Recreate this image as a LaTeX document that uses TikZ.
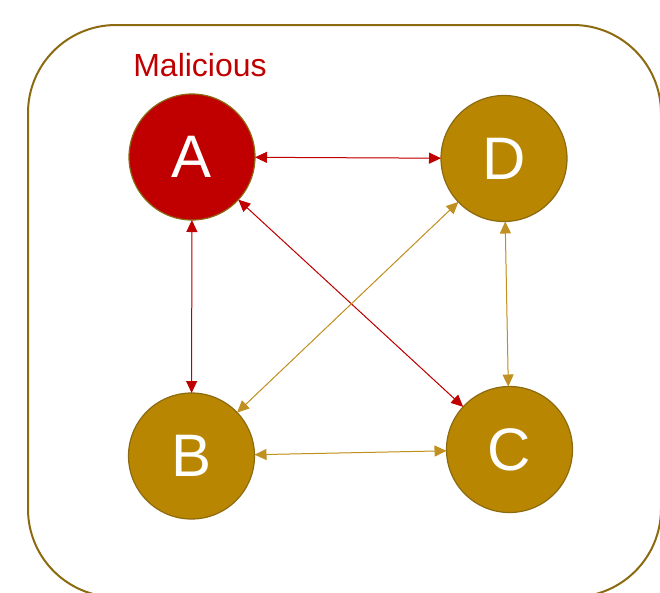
\documentclass[tikz,border=0pt]{standalone}
\usepackage{fontspec}
\setmainfont{Liberation Sans}
\usetikzlibrary{arrows.meta}
\definecolor{malred}{HTML}{C00000}
\definecolor{gold}{HTML}{B88600}
\definecolor{goldedge}{HTML}{8B6A10}
\definecolor{goldlink}{HTML}{C09020}
\begin{document}
\begin{tikzpicture}[x=1pt,y=-1pt,
  peer/.style={circle, minimum size=126pt, inner sep=0pt, outer sep=0pt,
    draw=goldedge, line width=1.2pt, fill=gold, text=white,
    font=\fontsize{60}{60}\selectfont},
  link/.style={line width=1pt,
    {Triangle[length=12pt,width=11pt]}-{Triangle[length=12pt,width=11pt]}},
  badlink/.style={link, draw=malred, fill=malred},
  goodlink/.style={link, draw=goldlink, fill=goldlink}]
\useasboundingbox (0,0) rectangle (660,592);
\clip (0,0) rectangle (660,592);
% enclosing network boundary
\draw[goldedge, line width=2pt, rounded corners=88pt] (28,25) rectangle (661,597);
% peers
\node[peer, fill=malred] (A) at (192,157) {A};
\node[peer] (D) at (504,158.5) {D};
\node[peer] (B) at (191.5,456) {B};
\node[peer] (C) at (509.5,449.5) {C};
\node[text=malred, font=\fontsize{32}{32}\selectfont] (mal) at (200,65) {Malicious};
% links from the malicious peer
\draw[badlink] (A) -- (D);
\draw[badlink] (A) -- (B);
\draw[badlink] (A) -- (C);
% links among honest peers
\draw[goodlink] (D) -- (B);
\draw[goodlink] (D) -- (C);
\draw[goodlink] (B) -- (C);
\end{tikzpicture}
\end{document}
